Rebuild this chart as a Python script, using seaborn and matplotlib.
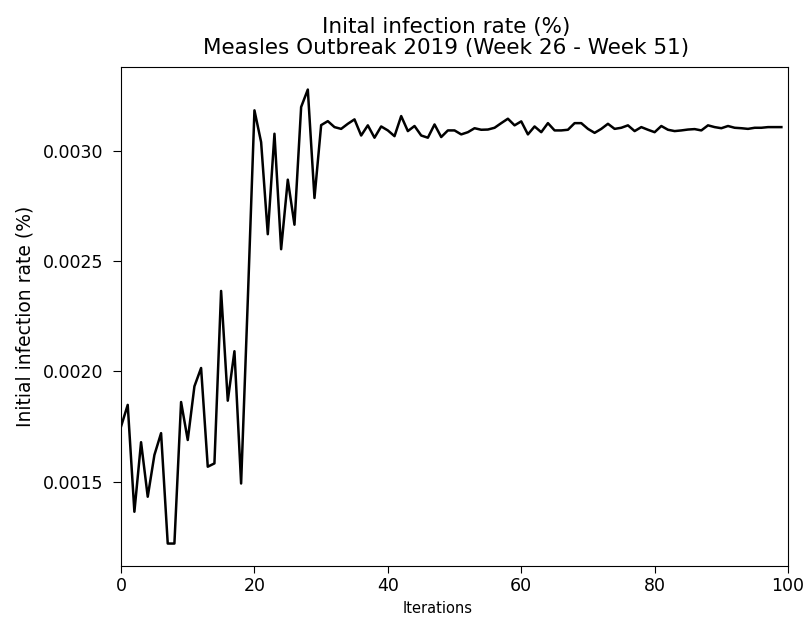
import matplotlib
matplotlib.use("Agg")
import matplotlib.pyplot as plt
import seaborn as sns
import numpy as np
import pandas as pd

iterations = list(range(100))
rate = [
    0.001750, 0.001848, 0.001364, 0.001679, 0.001432, 0.001621, 0.001720, 0.001220, 0.001220, 0.001861,
    0.001689, 0.001932, 0.002015, 0.001568, 0.001583, 0.002364, 0.001867, 0.002091, 0.001492, 0.002320,
    0.003182, 0.003038, 0.002621, 0.003076, 0.002553, 0.002868, 0.002664, 0.003197, 0.003276, 0.002785,
    0.003115, 0.003133, 0.003106, 0.003098, 0.003121, 0.003141, 0.003068, 0.003114, 0.003058, 0.003109,
    0.003091, 0.003065, 0.003156, 0.003088, 0.003111, 0.003068, 0.003058, 0.003118, 0.003061, 0.003091,
    0.003091, 0.003073, 0.003083, 0.003101, 0.003094, 0.003095, 0.003103, 0.003124, 0.003144, 0.003114,
    0.003132, 0.003073, 0.003109, 0.003083, 0.003124, 0.003091, 0.003091, 0.003094, 0.003124, 0.003124,
    0.003098, 0.003080, 0.003098, 0.003121, 0.003098, 0.003103, 0.003114, 0.003088, 0.003106, 0.003094,
    0.003083, 0.003111, 0.003094, 0.003088, 0.003091, 0.003095, 0.003097, 0.003091, 0.003114, 0.003106,
    0.003101, 0.003111, 0.003103, 0.003101, 0.003098, 0.003103, 0.003103, 0.003106, 0.003106, 0.003106,
]

df = pd.DataFrame({"Iterations": iterations, "rate": rate})

fig, ax = plt.subplots(figsize=(8.07, 6.25), dpi=100)
fig.subplots_adjust(left=0.150, right=0.9765, top=0.893, bottom=0.094)
sns.lineplot(data=df, x="Iterations", y="rate", color="black", linewidth=1.8, ax=ax)
ax.set_xlim(0, 100)
ax.set_xlabel("Iterations", fontsize=10.5, x=0.475)
ax.set_ylabel("Initial infection rate (%)", fontsize=13.5, labelpad=6)
ax.set_title("Inital infection rate (%)\nMeasles Outbreak 2019 (Week 26 - Week 51)",
             fontsize=15.5, x=0.487, pad=9, linespacing=1.1)
ax.tick_params(axis="x", labelsize=12.5, length=5, pad=3)
ax.tick_params(axis="y", labelsize=12.5, length=6, pad=7)
fig.savefig("out.png", dpi=100)
